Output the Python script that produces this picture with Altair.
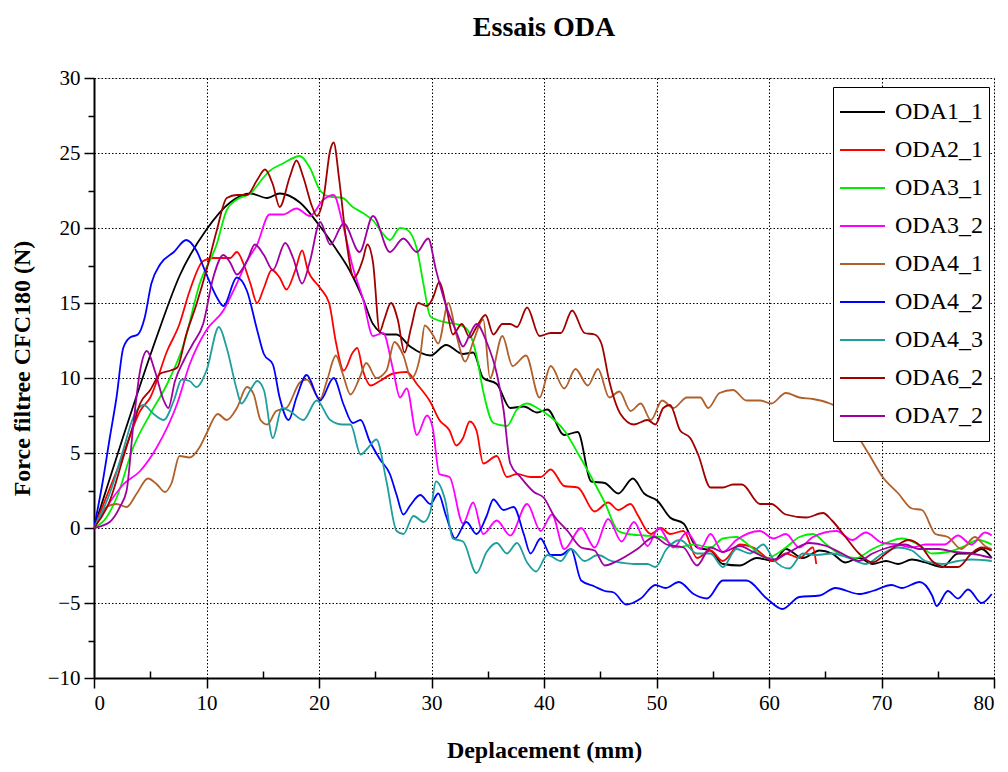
import altair as alt
import pandas as pd

SERIES = ["ODA1_1", "ODA2_1", "ODA3_1", "ODA3_2", "ODA4_1", "ODA4_2", "ODA4_3", "ODA6_2", "ODA7_2"]
COLORS = ["#000000", "#ff0000", "#00ee00", "#ff00ff", "#b0602a", "#0000ff", "#1f9e9e", "#a00000", "#a000a0"]

ODA1_1 = [(0, 0), (2.6, 6.1), (5.6, 12.8), (7.6, 16.8), (10.0, 19.9), (12.1, 21.7), (13.9, 22.3), (15.4, 22.0),
          (16.5, 22.3), (18.3, 21.7), (20.1, 20.1), (21.6, 18.5), (22.7, 17.2), (23.9, 15.3), (24.8, 13.6),
          (26.0, 12.9), (26.9, 12.9), (28.1, 12.1), (29.9, 11.5), (31.3, 12.2), (32.8, 11.6), (33.7, 11.7),
          (34.6, 10.0), (35.8, 9.6), (37.0, 8.0), (38.2, 8.1), (39.4, 7.7), (40.3, 7.9), (41.8, 6.2), (43.0, 6.4),
          (44.2, 3.1), (45.4, 3.0), (46.6, 2.3), (47.9, 3.3), (48.9, 2.3), (50.1, 1.8), (51.2, 0.7), (52.4, 0.3),
          (53.6, -1.3), (54.8, -1.5), (55.9, -2.4), (57.4, -2.5), (58.9, -2.0), (60.4, -2.2), (61.5, -1.4),
          (63.0, -2.0), (64.5, -1.5), (65.6, -1.7), (66.8, -2.3), (68.0, -2.0), (69.2, -2.4), (70.4, -2.2),
          (71.5, -2.4), (72.7, -2.1), (73.9, -2.3), (75.4, -2.6), (76.8, -1.7), (78.0, -1.7), (78.9, -1.4),
          (79.8, -2.0)]

ODA2_1 = [(0, 0), (2.6, 4.9), (4.1, 7.8), (5.0, 8.7), (6.5, 11.8), (7.6, 13.6), (8.5, 15.8), (9.7, 17.8),
          (10.6, 18.0), (12.1, 18.0), (12.7, 18.4), (13.3, 17.6), (13.9, 16.3), (14.5, 15.0), (15.1, 16.0),
          (15.8, 17.2), (16.5, 16.7), (17.1, 15.9), (17.9, 17.2), (18.5, 18.5), (19.0, 17.2), (20.1, 16.0),
          (20.9, 15.0), (21.5, 12.4), (22.2, 10.5), (23.0, 11.7), (23.4, 12.0), (23.9, 10.5), (24.6, 9.5),
          (25.4, 9.8), (26.6, 10.3), (27.8, 10.4), (28.7, 9.6), (29.9, 8.4), (30.7, 7.2), (31.6, 6.5), (32.2, 5.5),
          (32.8, 6.0), (33.4, 7.1), (34.0, 6.5), (34.6, 4.3), (35.8, 4.8), (36.7, 3.4), (37.6, 3.6), (38.8, 3.4),
          (39.7, 3.4), (40.6, 3.9), (41.8, 2.8), (43.0, 2.7), (44.5, 1.1), (45.7, 1.7), (46.6, 1.2), (47.7, 1.6),
          (48.3, 0.9), (49.5, -0.4), (50.4, 0.0), (51.2, -0.4), (52.4, -0.2), (53.6, -2.0), (54.8, -1.5),
          (55.9, -2.2), (57.4, -1.1), (58.6, -1.3), (60.4, -2.2), (61.5, -1.7), (62.7, -2.0), (63.9, -1.3),
          (64.2, -2.4)]

ODA3_1 = [(0, 0), (1.1, 0.7), (2.0, 2.0), (3.5, 5.4), (5.0, 7.6), (6.5, 9.6), (8.0, 12.3), (9.4, 16.3),
          (10.9, 18.9), (11.8, 21.2), (12.7, 21.9), (13.9, 22.3), (15.1, 23.4), (15.6, 23.8), (16.8, 24.3),
          (18.3, 24.8), (19.2, 24.0), (20.1, 22.5), (20.9, 22.1), (22.1, 22.0), (23.0, 21.4), (23.9, 21.0),
          (24.8, 20.5), (25.7, 19.6), (26.3, 19.2), (27.2, 20.0), (27.8, 19.9), (28.7, 18.6), (29.3, 16.2),
          (29.9, 14.1), (30.4, 13.9), (31.3, 13.7), (32.2, 13.6), (33.1, 13.3), (34.0, 11.5), (34.6, 9.1),
          (35.5, 7.0), (36.7, 6.8), (37.6, 7.9), (38.5, 8.3), (39.4, 8.0), (40.6, 7.4), (41.8, 6.5), (43.0, 5.0),
          (44.2, 3.4), (45.4, 1.7), (46.6, -0.2), (47.4, -0.4), (48.9, -0.5), (50.4, -0.6), (51.8, -1.3),
          (53.3, -1.1), (54.8, -1.3), (55.9, -0.7), (57.1, -0.6), (58.3, -1.2), (59.8, -2.0), (61.5, -1.3),
          (62.7, -0.6), (63.9, -0.4), (65.1, -1.1), (66.2, -1.7), (67.7, -2.0), (69.2, -1.4), (70.4, -1.0),
          (71.8, -0.7), (73.3, -1.1), (74.5, -1.7), (75.9, -1.6), (77.4, -1.2), (78.6, -0.8), (79.8, -1.1)]

ODA3_2 = [(0, 0), (2.6, 2.9), (4.1, 3.8), (5.6, 5.4), (7.4, 8.3), (8.5, 10.9), (10.0, 13.2), (11.5, 14.5),
          (12.7, 16.3), (13.6, 17.8), (14.5, 18.9), (15.6, 20.9), (16.8, 20.9), (18.0, 21.3), (19.2, 20.8),
          (20.4, 21.9), (21.3, 22.2), (22.1, 20.3), (23.0, 17.4), (23.9, 15.3), (24.8, 12.8), (25.7, 13.0),
          (26.6, 10.5), (27.2, 8.7), (27.8, 9.3), (28.7, 6.2), (29.6, 7.5), (30.1, 6.7), (30.7, 3.6), (31.6, 3.4),
          (32.8, 0.3), (33.7, 1.7), (34.6, -0.4), (35.8, 0.5), (37.0, -0.5), (38.5, 1.6), (39.7, -0.2), (40.7, 0.9),
          (41.8, -1.4), (43.3, 0.0), (44.5, -1.3), (45.7, 0.6), (46.9, -0.9), (48.0, 0.4), (49.2, -1.2),
          (50.2, 0.0), (51.5, -1.3), (52.7, -0.3), (53.9, -1.4), (54.8, -0.4), (55.9, -1.6), (57.1, -0.8),
          (59.2, -0.2), (60.4, -0.7), (61.5, -0.4), (62.7, -1.3), (63.9, -0.6), (66.0, -0.2), (67.4, -0.8),
          (68.6, -0.3), (70.1, -1.0), (71.5, -1.1), (72.7, -1.3), (73.9, -1.1), (75.6, -1.1), (76.8, -0.5),
          (78.0, -1.1), (79.2, -0.3), (79.8, -0.5)]

ODA4_1 = [(0, 0), (1.1, 1.4), (2.0, 1.6), (2.9, 1.4), (3.8, 2.3), (4.8, 3.3), (5.6, 2.9), (6.3, 2.4), (6.9, 3.0),
          (7.6, 4.8), (8.5, 4.7), (9.4, 5.4), (10.0, 6.3), (11.0, 7.6), (11.8, 7.2), (12.7, 8.0), (13.6, 9.4),
          (14.2, 8.9), (14.8, 7.2), (15.4, 6.9), (16.2, 7.8), (17.1, 8.0), (18.3, 9.7), (18.9, 9.9), (20.1, 8.6),
          (20.7, 9.8), (21.5, 11.5), (22.1, 10.3), (22.8, 8.9), (23.6, 10.0), (24.2, 11.0), (25.1, 10.0),
          (26.0, 10.5), (26.7, 12.4), (27.5, 11.5), (28.2, 10.0), (29.0, 11.5), (29.4, 13.5), (30.1, 12.9),
          (30.6, 12.3), (31.5, 15.0), (32.2, 12.9), (33.0, 11.1), (33.7, 12.4), (34.6, 13.9), (35.2, 10.0),
          (36.3, 12.8), (37.2, 10.8), (38.4, 11.5), (39.6, 8.7), (40.6, 10.8), (41.8, 9.3), (42.8, 10.6),
          (43.9, 9.5), (44.8, 10.6), (45.8, 8.7), (46.7, 9.1), (47.7, 7.8), (48.6, 8.3), (49.5, 7.2), (50.5, 8.5),
          (51.5, 8.0), (52.7, 8.7), (53.9, 8.7), (54.6, 8.0), (55.6, 9.0), (56.8, 9.2), (58.0, 8.5), (59.2, 8.5),
          (60.2, 8.3), (61.5, 9.0), (62.7, 8.7), (63.9, 8.6), (65.4, 8.3), (66.2, 8.0), (67.4, 6.7), (68.9, 4.9),
          (70.1, 3.4), (71.5, 2.3), (72.7, 1.3), (73.6, 1.2), (74.8, -0.4), (75.9, -0.6), (77.1, -1.4),
          (78.3, -0.6), (79.2, -1.2), (79.8, -1.4)]

ODA4_2 = [(0, 0), (0.8, 3.2), (1.4, 6.0), (2.0, 8.7), (2.6, 12.0), (3.2, 12.7), (3.9, 12.9), (4.5, 14.0),
          (5.1, 16.3), (5.9, 17.6), (7.1, 18.4), (8.2, 19.2), (9.1, 18.5), (10.0, 16.9), (10.9, 15.4), (11.5, 14.8),
          (12.7, 16.7), (13.6, 15.8), (14.5, 13.2), (15.1, 11.6), (15.9, 10.9), (16.5, 8.7), (17.3, 7.2),
          (18.0, 8.7), (18.9, 10.2), (20.1, 8.5), (21.3, 10.0), (22.2, 8.2), (23.0, 7.0), (23.7, 7.2), (24.5, 5.8),
          (25.4, 4.6), (26.3, 3.6), (26.9, 2.2), (27.5, 0.9), (28.1, 1.5), (29.0, 2.2), (29.9, 1.6), (30.6, 2.3),
          (31.3, 0.8), (32.1, -0.7), (33.1, 0.4), (34.0, -0.4), (34.9, 0.8), (35.5, 1.9), (36.4, 1.2), (37.3, 1.4),
          (38.2, -0.4), (38.8, -1.7), (39.7, -0.7), (40.6, -1.8), (41.5, -1.8), (42.4, -1.4), (43.3, -3.5),
          (44.5, -3.9), (45.4, -4.2), (46.2, -4.3), (47.3, -5.1), (48.6, -4.7), (49.9, -3.8), (50.8, -4.0),
          (52.0, -3.6), (53.3, -4.4), (54.5, -4.7), (55.9, -3.5), (58.0, -3.5), (59.8, -4.7), (61.2, -5.4),
          (62.7, -4.6), (64.5, -4.5), (65.9, -4.0), (68.0, -4.4), (69.2, -4.2), (70.9, -3.8), (71.8, -4.0),
          (73.4, -3.6), (74.5, -4.5), (74.9, -5.2), (75.9, -4.2), (76.8, -4.7), (77.7, -4.1), (78.9, -5.0),
          (79.8, -4.4)]

ODA4_3 = [(0, 0), (1.4, 2.3), (2.6, 5.2), (3.5, 7.4), (4.4, 8.2), (5.3, 7.6), (6.2, 7.2), (7.1, 8.5), (7.8, 9.9),
          (8.5, 9.8), (9.1, 9.4), (10.0, 10.5), (11.1, 13.4), (11.8, 12.0), (12.7, 9.2), (13.1, 8.3), (13.9, 9.2),
          (14.5, 9.8), (15.1, 9.2), (15.9, 6.0), (16.7, 8.0), (17.4, 7.8), (18.6, 7.2), (19.8, 8.5), (21.0, 7.2),
          (22.1, 6.9), (22.8, 6.9), (23.7, 4.9), (24.3, 5.3), (25.1, 5.9), (26.0, 3.1), (26.9, -0.2), (27.5, -0.4),
          (28.4, 0.8), (29.3, 0.4), (29.9, 1.1), (30.4, 3.1), (31.2, 1.9), (31.9, -0.7), (32.8, -0.9), (34.0, -3.0),
          (34.9, -1.6), (35.8, -1.0), (36.7, -1.7), (37.6, -1.0), (38.5, -2.3), (39.3, -2.9), (40.3, -1.8),
          (41.5, -2.2), (42.4, -1.4), (43.6, -2.2), (44.8, -1.8), (46.0, -2.2), (46.8, -2.3), (48.0, -2.4),
          (49.2, -2.4), (49.9, -2.6), (50.9, -1.4), (52.1, -0.8), (53.6, -1.7), (54.8, -1.7), (55.9, -2.6),
          (57.1, -1.4), (58.3, -1.7), (59.5, -1.1), (60.4, -2.1), (61.8, -2.7), (63.0, -1.7), (64.2, -1.8),
          (65.6, -1.7), (67.1, -2.0), (68.6, -2.4), (70.1, -1.7), (71.5, -1.3), (72.7, -1.5), (73.9, -2.2),
          (75.4, -2.4), (76.8, -2.2), (78.0, -2.1), (79.8, -2.2)]

ODA6_2 = [(0, 0), (1.4, 1.8), (2.6, 4.7), (3.5, 6.9), (4.1, 8.3), (5.0, 9.2), (5.9, 10.3), (6.8, 10.5),
          (7.4, 10.7), (8.2, 12.9), (9.1, 14.9), (10.0, 17.2), (10.9, 19.8), (11.8, 22.0), (12.7, 22.2),
          (13.6, 22.2), (14.5, 23.2), (15.2, 23.9), (15.9, 22.9), (16.5, 21.4), (17.4, 23.4), (18.0, 24.5),
          (18.6, 23.4), (19.4, 21.4), (19.8, 20.8), (20.4, 22.0), (21.0, 25.2), (21.3, 25.7), (21.8, 23.2),
          (22.4, 19.3), (23.1, 16.7), (23.9, 17.9), (24.3, 18.9), (24.8, 17.7), (25.4, 13.1), (25.8, 13.9),
          (26.4, 15.0), (27.0, 13.9), (27.6, 11.7), (28.2, 13.4), (28.8, 15.0), (29.6, 14.8), (30.1, 15.3),
          (30.7, 16.4), (31.3, 14.8), (31.9, 12.9), (32.7, 13.6), (33.4, 12.7), (34.0, 13.4), (34.8, 14.2),
          (35.5, 12.9), (36.3, 13.6), (37.0, 13.6), (37.6, 13.4), (38.5, 14.7), (39.6, 12.8), (40.6, 13.0),
          (41.5, 13.0), (42.5, 14.5), (43.6, 13.0), (44.5, 12.9), (45.1, 12.3), (45.8, 9.8), (46.8, 7.6),
          (48.0, 6.9), (49.2, 7.2), (49.9, 6.9), (50.6, 8.0), (51.2, 8.2), (52.1, 6.5), (53.0, 6.0), (53.7, 4.9),
          (54.8, 2.7), (55.9, 2.7), (56.8, 2.9), (57.6, 2.9), (59.2, 1.6), (60.2, 1.6), (61.5, 0.9), (63.3, 0.7),
          (64.8, 1.0), (65.6, 0.5), (66.8, -0.6), (68.0, -1.7), (69.2, -2.3), (70.4, -1.7), (71.5, -1.1),
          (72.4, -0.8), (73.6, -1.3), (74.5, -2.2), (75.7, -2.6), (76.8, -2.6), (78.0, -1.7), (78.9, -1.3),
          (79.8, -1.5)]

ODA7_2 = [(0, 0), (1.4, 0.4), (2.3, 1.4), (2.9, 2.5), (3.5, 6.9), (4.1, 10.5), (4.7, 11.8), (5.4, 10.5),
          (6.2, 8.5), (6.6, 8.0), (7.2, 9.8), (8.0, 11.2), (8.8, 12.3), (9.7, 13.6), (10.6, 16.7), (11.5, 18.2),
          (12.1, 17.7), (12.7, 16.9), (13.6, 17.8), (14.3, 18.9), (15.1, 18.2), (15.9, 17.2), (17.0, 19.0),
          (17.7, 18.0), (18.5, 16.3), (19.2, 17.8), (20.1, 20.4), (21.0, 18.9), (22.2, 20.3), (23.6, 18.4),
          (24.8, 20.8), (26.3, 18.4), (27.5, 19.3), (28.7, 18.4), (29.7, 19.3), (30.4, 17.2), (31.3, 14.8),
          (32.2, 13.1), (32.8, 12.1), (33.4, 12.9), (34.0, 13.6), (34.9, 12.4), (35.8, 10.3), (36.4, 7.9),
          (37.0, 4.3), (37.9, 3.4), (39.1, 2.4), (40.0, 2.0), (40.9, 0.8), (42.1, -0.2), (43.3, -1.3),
          (44.5, -1.5), (45.4, -2.5), (46.5, -2.2), (48.3, -1.4), (49.8, -0.6), (50.9, -1.1), (52.4, -1.3),
          (53.6, -2.5), (54.8, -1.3), (55.9, -1.6), (57.4, -1.2), (58.6, -1.6), (60.4, -2.1), (61.8, -1.6),
          (63.6, -1.0), (65.1, -1.2), (66.5, -1.7), (68.0, -2.2), (69.2, -1.7), (70.6, -1.3), (72.1, -1.1),
          (73.3, -1.4), (75.1, -1.4), (76.5, -1.6), (78.0, -1.7), (79.8, -2.0)]

X_MAJOR = [0, 10, 20, 30, 40, 50, 60, 70, 80]
X_MINOR = [5, 15, 25, 35, 45, 55, 65, 75]
Y_MAJOR = [-10, -5, 0, 5, 10, 15, 20, 25, 30]
Y_MINOR = [-7.5, -2.5, 2.5, 7.5, 12.5, 17.5, 22.5, 27.5]

rows = []
for name, pts in zip(SERIES, [ODA1_1, ODA2_1, ODA3_1, ODA3_2, ODA4_1, ODA4_2, ODA4_3, ODA6_2, ODA7_2]):
    for i, (xv, yv) in enumerate(pts):
        rows.append({"serie": name, "x": xv, "y": yv, "i": i})
df = pd.DataFrame(rows)

FONT = "Liberation Serif"
xscale = alt.Scale(domain=[0, 80], nice=False, zero=False)
yscale = alt.Scale(domain=[-10, 30], nice=False, zero=False)

lines = alt.Chart(df).mark_line(strokeWidth=1.8, clip=True, interpolate="monotone").encode(
    x=alt.X("x:Q", scale=xscale, title="Deplacement (mm)",
            axis=alt.Axis(orient="bottom", values=X_MAJOR, grid=True, gridColor="black", gridDash=[1.5, 2],
                          gridWidth=1, tickSize=10, tickWidth=1.5, tickColor="black", domainColor="black",
                          domainWidth=2, labelFont=FONT, labelFontSize=21, labelColor="black", labelPadding=4,
                          titleFont=FONT, titleFontSize=24, titleFontWeight="bold", titleColor="black",
                          titleY=72, titleBaseline="middle")),
    y=alt.Y("y:Q", scale=yscale, title="Force filtree CFC180 (N)",
            axis=alt.Axis(orient="left", values=Y_MAJOR, grid=True, gridColor="black", gridDash=[1.5, 2],
                          gridWidth=1, tickSize=10, tickWidth=1.5, tickColor="black", domainColor="black",
                          domainWidth=2, labelFont=FONT, labelFontSize=21, labelColor="black", labelPadding=4,
                          titleFont=FONT, titleFontSize=24, titleFontWeight="bold", titleColor="black",
                          titleX=-72, titleY=290, titleBaseline="middle")),
    color=alt.Color("serie:N", scale=alt.Scale(domain=SERIES, range=COLORS),
                    legend=alt.Legend(title=None, orient="none", legendX=739, legendY=9,
                                      symbolType="stroke", symbolSize=2025, symbolStrokeWidth=2,
                                      clipHeight=38, rowPadding=0, padding=6, labelOffset=9,
                                      labelFont=FONT, labelFontSize=24, labelColor="black",
                                      strokeColor="black", fillColor="white")),
    order="i:Q",
    detail="serie:N",
)

minor = alt.Chart(df).mark_point(opacity=0).encode(
    x=alt.X("x:Q", scale=xscale, title=None,
            axis=alt.Axis(orient="bottom", values=X_MINOR, grid=False, labels=False, domain=False, offset=-7,
                          tickSize=7, tickWidth=1.5, tickColor="black")),
    y=alt.Y("y:Q", scale=yscale, title=None,
            axis=alt.Axis(orient="left", values=Y_MINOR, grid=False, labels=False, domain=False,
                          tickSize=6, tickWidth=1.5, tickColor="black")),
)

chart = alt.layer(lines, minor).resolve_axis(x="independent", y="independent").properties(
    width=900, height=600,
    title=alt.TitleParams("Essais ODA", font=FONT, fontSize=28, fontWeight="bold", color="black",
                          anchor="middle", offset=25),
    autosize=alt.AutoSizeParams(type="none"),
    padding={"left": 86, "top": 70, "right": 6, "bottom": 86},
).configure_view(stroke="black", strokeWidth=2).configure(background="white")

chart.save("out.html", embed_options={"renderer": "svg", "actions": False})
